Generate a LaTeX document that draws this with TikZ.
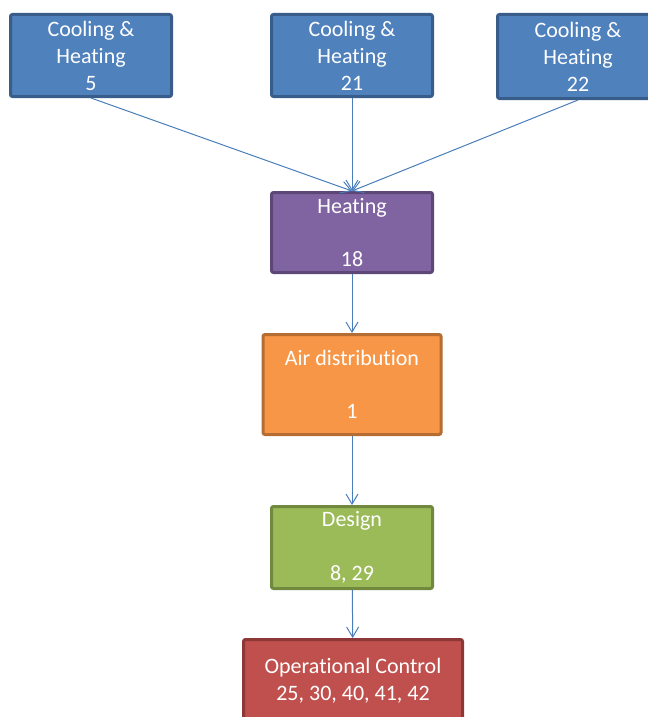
\documentclass[tikz,border=0pt]{standalone}
\usepackage{fontspec}
\setmainfont{Carlito}[Ligatures=NoCommon]
\usetikzlibrary{arrows.meta}

\definecolor{bluefill}{HTML}{4F81BD}
\definecolor{blueline}{HTML}{385D8A}
\definecolor{purplefill}{HTML}{8064A2}
\definecolor{purpleline}{HTML}{5C4776}
\definecolor{orangefill}{HTML}{F79646}
\definecolor{orangeline}{HTML}{B66D31}
\definecolor{greenfill}{HTML}{9BBB59}
\definecolor{greenline}{HTML}{71893F}
\definecolor{redfill}{HTML}{C0504D}
\definecolor{redline}{HTML}{8C3836}
\definecolor{arrowblue}{HTML}{4A7EBB}

\tikzset{
  box/.style={rectangle, rounded corners=1.5pt, line width=2.25pt, text=white,
    align=center, inner sep=0pt, font=\fontsize{16.5}{20.25}\selectfont},
  flow/.style={draw=arrowblue, line width=0.75pt, -{Straight Barb[length=7.5pt,width=9pt]}}
}

\begin{document}
\begin{tikzpicture}[x=0.75pt, y=-0.75pt]
      \useasboundingbox (0,0) rectangle (648,717);
      \clip (0,0) rectangle (648,717);

      \node[box, fill=bluefill, draw=blueline, minimum width=120.75pt, minimum height=61.5pt](C5) at ( 91.0, 55.5){Cooling \&\\Heating\\5};
      \node[box, fill=bluefill, draw=blueline, minimum width=120.75pt, minimum height=61.5pt](C21) at (352.0, 55.5){Cooling \&\\Heating\\21};
      \node[box, fill=bluefill, draw=blueline, minimum width=120.75pt, minimum height=63pt](C22) at (578.0, 56.5){Cooling \&\\Heating\\22};
      \node[box, fill=purplefill, draw=purpleline, minimum width=120.75pt, minimum height=60pt](H18) at (352.0,232.5){Heating\\[20pt]18};
      \node[box, fill=orangefill, draw=orangeline, minimum width=133.5pt, minimum height=75pt](A1) at (352.0,384.5){Air distribution\\[20pt]1};
      \node[box, fill=greenfill, draw=greenline, minimum width=120.75pt, minimum height=61.5pt](D8) at (352.0,547.5){Design\\[20pt]8, 29};
      \node[box, fill=redfill, draw=redline, minimum width=164.25pt, minimum height=61.5pt](OC) at (353.0,680.5){Operational Control\\25, 30, 40, 41, 42};

      \draw[flow] (C5.south) -- (H18.north);
      \draw[flow] (C21.south) -- (H18.north);
      \draw[flow] (C22.south) -- (H18.north);
      \draw[flow] (H18) -- (A1);
      \draw[flow] (A1) -- (D8);
      \draw[flow] (D8) -- (OC);
    \end{tikzpicture}
\end{document}
